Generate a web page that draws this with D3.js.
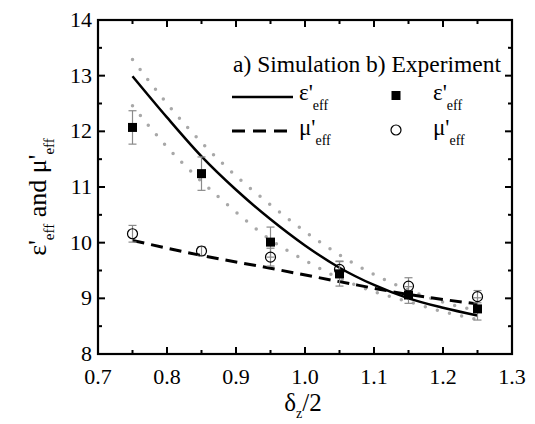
<!DOCTYPE html>
<html>
<head>
<meta charset="utf-8">
<script src="https://cdn.jsdelivr.net/npm/d3@7"></script>
<style>
  body { margin: 0; background: #fff; }
</style>
</head>
<body>
<div id="viz"></div>
<script>
// simulation curves
let simX      = [0.75, 0.80, 0.85, 0.90, 0.95, 1.00, 1.05, 1.10, 1.15, 1.20, 1.25];
let simEps    = [12.99, 12.25, 11.55, 10.95, 10.42, 9.95, 9.55, 9.24, 9.00, 8.83, 8.69];
let simEpsHi  = [13.29, 12.50, 11.80, 11.20, 10.68, 10.20, 9.78, 9.43, 9.15, 8.93, 8.78];
let simEpsLo  = [12.46, 11.72, 11.10, 10.55, 10.05, 9.68, 9.36, 9.12, 8.94, 8.76, 8.62];
let simMuX    = [0.75, 0.85, 0.95, 1.05, 1.15, 1.25];
let simMu     = [10.04, 9.77, 9.54, 9.30, 9.07, 8.90];

// experiment
let expX      = [0.75, 0.85, 0.95, 1.05, 1.15, 1.25];
let expEps    = [12.07, 11.24, 10.01, 9.44, 9.06, 8.81];
let expEpsErr = [0.30, 0.30, 0.27, 0.22, 0.15, 0.20];
let expMu     = [10.16, 9.85, 9.74, 9.52, 9.22, 9.03];
let expMuErr  = [0.15, 0.08, 0.16, 0.15, 0.15, 0.11];

let xTicks = [0.7, 0.8, 0.9, 1.0, 1.1, 1.2, 1.3];
let yTicks = [8, 9, 10, 11, 12, 13, 14];

let W = 535, H = 424;
let mLeft = 98, mRight = 512, mTop = 20, mBottom = 354;

var svg = d3.select("#viz").append("svg")
    .attr("width", W)
    .attr("height", H)
    .style("font-family", "'Liberation Serif', 'DejaVu Serif', serif");

let x = d3.scaleLinear().domain([0.7, 1.3]).range([mLeft, mRight]);
let y = d3.scaleLinear().domain([8, 14]).range([mBottom, mTop]);

// AXES (ticks inside, on all four sides)
let xMinor = d3.range(0.75, 1.3, 0.1);
let yMinor = d3.range(8.5, 14, 1);

function tickLines(g, vals, scale, horiz, len) {
    g.selectAll("line.t" + len)
     .data(vals).enter().append("line")
     .attr("x1", d => horiz ? scale(d) : 0)
     .attr("x2", d => horiz ? scale(d) : len)
     .attr("y1", d => horiz ? 0 : scale(d))
     .attr("y2", d => horiz ? len : scale(d))
     .attr("stroke", "#000").attr("stroke-width", 2);
}

let gb = svg.append("g").attr("transform", "translate(0," + mBottom + ")");
tickLines(gb, xTicks.slice(1, -1), x, true, -7);
tickLines(gb, xMinor, x, true, -4);
let gt = svg.append("g").attr("transform", "translate(0," + mTop + ")");
tickLines(gt, xTicks.slice(1, -1), x, true, 7);
tickLines(gt, xMinor, x, true, 4);
let gl = svg.append("g").attr("transform", "translate(" + mLeft + ",0)");
tickLines(gl, yTicks.slice(1, -1), y, false, 7);
tickLines(gl, yMinor, y, false, 4);
let gr = svg.append("g").attr("transform", "translate(" + mRight + ",0)");
tickLines(gr, yTicks.slice(1, -1), y, false, -7);
tickLines(gr, yMinor, y, false, -4);

svg.append("rect")
    .attr("x", mLeft).attr("y", mTop)
    .attr("width", mRight - mLeft).attr("height", mBottom - mTop)
    .attr("fill", "none").attr("stroke", "#000").attr("stroke-width", 2.2);

svg.append("g").selectAll("text")
    .data(xTicks).enter().append("text")
    .attr("x", d => x(d))
    .attr("y", mBottom + 30)
    .attr("text-anchor", "middle")
    .attr("font-size", "22px")
    .text(d => d.toFixed(1));

svg.append("g").selectAll("text")
    .data(yTicks).enter().append("text")
    .attr("x", mLeft - 6)
    .attr("y", d => y(d) + 7)
    .attr("text-anchor", "end")
    .attr("font-size", "22px")
    .text(d => d);

// axis titles
let xt = svg.append("text")
    .attr("x", 303).attr("y", 411)
    .attr("text-anchor", "middle")
    .attr("font-size", "25px");
xt.append("tspan").text("δ");
xt.append("tspan").attr("font-size", "14px").attr("dy", 7).text("z");
xt.append("tspan").attr("dy", -7).text("/2");

let yt = svg.append("text")
    .attr("transform", "translate(46,197) rotate(-90)")
    .attr("text-anchor", "middle")
    .attr("font-size", "26px");
yt.append("tspan").text("ε'");
yt.append("tspan").attr("font-size", "15px").attr("dy", 8).text("eff");
yt.append("tspan").attr("dy", -8).text(" and μ'");
yt.append("tspan").attr("font-size", "15px").attr("dy", 8).text("eff");

// CURVES
let line = d3.line().x(d => x(d[0])).y(d => y(d[1])).curve(d3.curveMonotoneX);

[simEpsHi, simEpsLo].forEach(s => {
    svg.append("path")
        .attr("d", line(simX.map((v, i) => [v, s[i]])))
        .attr("fill", "none")
        .attr("stroke", "#a8a8a8")
        .attr("stroke-width", 3.5)
        .attr("stroke-linecap", "round")
        .attr("stroke-dasharray", "0 12.5");
});

svg.append("path")
    .attr("d", line(simX.map((v, i) => [v, simEps[i]])))
    .attr("fill", "none")
    .attr("stroke", "#000")
    .attr("stroke-width", 2.5);

svg.append("path")
    .attr("d", line(simMuX.map((v, i) => [v, simMu[i]])))
    .attr("fill", "none")
    .attr("stroke", "#000")
    .attr("stroke-width", 3)
    .attr("stroke-dasharray", "12 7");

// ERROR BARS + MARKERS
function errBars(vals, errs) {
    let g = svg.append("g").attr("stroke", "#8a8a8a").attr("stroke-width", 1.2);
    expX.forEach((xv, i) => {
        let cx = x(xv), y1 = y(vals[i] + errs[i]), y2 = y(vals[i] - errs[i]);
        g.append("line").attr("x1", cx).attr("x2", cx).attr("y1", y1).attr("y2", y2);
        g.append("line").attr("x1", cx - 4).attr("x2", cx + 4).attr("y1", y1).attr("y2", y1);
        g.append("line").attr("x1", cx - 4).attr("x2", cx + 4).attr("y1", y2).attr("y2", y2);
    });
}
errBars(expEps, expEpsErr);
errBars(expMu, expMuErr);

svg.append("g").selectAll("rect")
    .data(expX).enter().append("rect")
    .attr("x", d => x(d) - 4.5)
    .attr("y", (d, i) => y(expEps[i]) - 4.5)
    .attr("width", 9).attr("height", 9)
    .attr("fill", "#000");

svg.append("g").selectAll("circle")
    .data(expX).enter().append("circle")
    .attr("cx", d => x(d))
    .attr("cy", (d, i) => y(expMu[i]))
    .attr("r", 5)
    .attr("fill", "none")
    .attr("stroke", "#000")
    .attr("stroke-width", 1.2);

// LEGEND
svg.append("text").attr("x", 233).attr("y", 72).attr("font-size", "23.5px").text("a) Simulation");
svg.append("text").attr("x", 366).attr("y", 72).attr("font-size", "23.5px").text("b) Experiment");

svg.append("line").attr("x1", 232).attr("x2", 293).attr("y1", 97).attr("y2", 97)
    .attr("stroke", "#000").attr("stroke-width", 2.5);
svg.append("line").attr("x1", 232).attr("x2", 287).attr("y1", 131).attr("y2", 131)
    .attr("stroke", "#000").attr("stroke-width", 3).attr("stroke-dasharray", "13 8");
svg.append("rect").attr("x", 391.5).attr("y", 91).attr("width", 9).attr("height", 9).attr("fill", "#000");
svg.append("circle").attr("cx", 396).attr("cy", 130).attr("r", 5)
    .attr("fill", "none").attr("stroke", "#000").attr("stroke-width", 1.2);

function legLabel(xp, yp, sym) {
    let t = svg.append("text").attr("x", xp).attr("y", yp).attr("font-size", "23px");
    t.append("tspan").text(sym + "'");
    t.append("tspan").attr("font-size", "14px").attr("dy", 10).text("eff");
}
legLabel(299, 100, "ε");
legLabel(299, 135, "μ");
legLabel(433, 100, "ε");
legLabel(433, 135, "μ");
</script>
</body>
</html>
